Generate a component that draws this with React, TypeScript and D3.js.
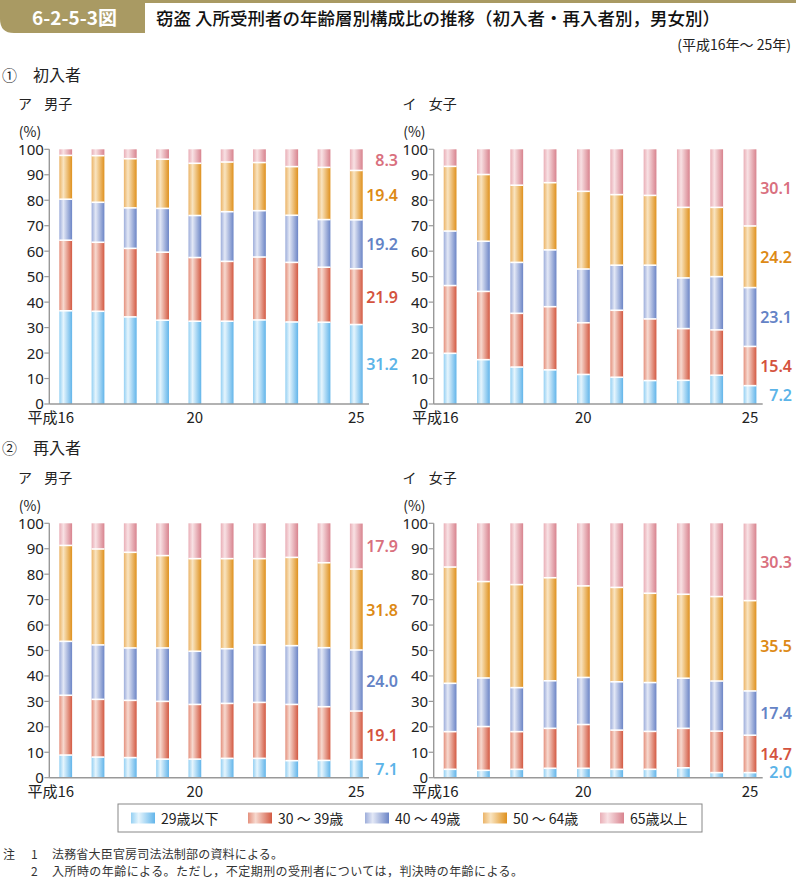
import React from 'react';
import * as d3 from 'd3';

const years = ['16', '17', '18', '19', '20', '21', '22', '23', '24', '25'];
const yearLabels: Record<string, string> = { '16': '平成16', '20': '20', '25': '25' };
const categories = ['29歳以下', '30～39歳', '40～49歳', '50～64歳', '65歳以上'];
const legendLabels = ['29歳以下', '30 ～ 39歳', '40 ～ 49歳', '50 ～ 64歳', '65歳以上'];
const yTicks = [0, 10, 20, 30, 40, 50, 60, 70, 80, 90, 100];

// 初入者 男子
const firstMale = [
  [36.6, 36.4, 34.2, 32.9, 32.5, 32.5, 33.0, 32.2, 32.1, 31.2],
  [27.7, 27.1, 26.9, 26.7, 25.0, 23.5, 24.7, 23.4, 21.6, 21.9],
  [16.1, 15.7, 15.9, 17.2, 16.5, 19.5, 18.2, 18.5, 18.7, 19.2],
  [17.2, 18.3, 19.3, 19.3, 20.5, 19.5, 18.9, 19.1, 20.5, 19.4],
  [2.4, 2.5, 3.7, 3.9, 5.5, 5.0, 5.2, 6.8, 7.1, 8.3],
];
// 初入者 女子
const firstFemale = [
  [19.9, 17.4, 14.5, 13.4, 11.6, 10.5, 9.2, 9.3, 11.3, 7.2],
  [26.6, 26.8, 21.1, 24.8, 20.3, 26.3, 24.2, 20.3, 17.8, 15.4],
  [21.4, 19.7, 20.0, 22.3, 21.1, 17.7, 21.1, 19.9, 20.9, 23.1],
  [25.4, 26.2, 30.3, 26.4, 30.5, 27.7, 27.4, 27.7, 27.2, 24.2],
  [6.7, 9.9, 14.1, 13.1, 16.5, 17.8, 18.1, 22.8, 22.8, 30.1],
];
// 再入者 男子
const reMale = [
  [8.9, 8.1, 7.9, 7.3, 7.3, 7.6, 7.6, 6.7, 6.8, 7.1],
  [23.5, 22.7, 22.5, 22.7, 21.5, 21.6, 22.0, 22.1, 21.1, 19.1],
  [21.2, 21.4, 20.6, 21.0, 20.9, 21.5, 22.6, 23.1, 23.2, 24.0],
  [37.7, 37.7, 37.6, 36.3, 36.4, 35.4, 33.9, 34.7, 33.4, 31.8],
  [8.7, 10.1, 11.4, 12.7, 13.9, 13.9, 13.9, 13.4, 15.5, 17.9],
];
// 再入者 女子
const reFemale = [
  [3.3, 2.9, 3.3, 3.7, 3.7, 3.3, 3.3, 3.9, 2.0, 2.0],
  [14.8, 17.2, 14.8, 15.7, 17.2, 15.4, 14.9, 15.5, 16.3, 14.7],
  [19.0, 19.1, 17.3, 18.7, 18.5, 19.0, 19.2, 19.7, 19.7, 17.4],
  [45.7, 37.9, 40.5, 40.5, 36.0, 37.1, 35.1, 33.0, 33.2, 35.5],
  [17.2, 22.9, 24.1, 21.4, 24.6, 25.2, 27.5, 27.9, 28.8, 30.3],
];

const grad = [
  { edge: '#94d0f3', light: '#e6f5fd', dark: '#62b5ea' },
  { edge: '#e4907d', light: '#f7d9cf', dark: '#d35a43' },
  { edge: '#9dadda', light: '#e3e8f6', dark: '#6c85c6' },
  { edge: '#ebb468', light: '#f9e4c0', dark: '#df911e' },
  { edge: '#e9aeb6', light: '#f8e1e4', dark: '#d8838e' },
];
const labelColors = ['#5cb4e8', '#d4533e', '#6483c6', '#dd8a16', '#d9707e'];

const FONT = '"Noto Sans CJK JP", "Noto Sans", sans-serif';
const NUMFONT = '"Noto Sans", "Noto Sans CJK JP", sans-serif';

type PanelDef = {
  data: number[][];
  axisX: number;
  axisEnd: number;
  top: number;
  bottom: number;
  title: string;
  labelX: number;
};

const panels: PanelDef[] = [
  { data: firstMale, axisX: 49.3, axisEnd: 369, top: 149.3, bottom: 404, title: 'ア', labelX: 398 },
  { data: firstFemale, axisX: 433.7, axisEnd: 762.7, top: 149.3, bottom: 404, title: 'イ', labelX: 792 },
  { data: reMale, axisX: 49.3, axisEnd: 369, top: 523.3, bottom: 777.7, title: 'ア', labelX: 398 },
  { data: reFemale, axisX: 433.7, axisEnd: 762.7, top: 523.3, bottom: 777.7, title: 'イ', labelX: 792 },
];
const panelSub = ['男子', '女子', '男子', '女子'];

function Panel({ p, idx }: { p: PanelDef; idx: number }) {
  const rows = years.map((yr, i) => {
    const r: any = { year: yr };
    categories.forEach((c, k) => (r[c] = p.data[k][i]));
    return r;
  });
  const series = d3.stack<any>().keys(categories)(rows);
  const x = d3.scalePoint<string>().domain(years).range([p.axisX + 16.4, p.axisEnd - 12.7]);
  const y = d3.scaleLinear().domain([0, 100]).range([p.bottom, p.top]);
  const bw = 12.8;
  const last = years.length - 1;
  return (
    <g>
      <text x={p.axisX - 31.3} y={p.top - 46} fontSize={14} fontFamily={FONT} fill="#222" dominantBaseline="central">
        {p.title}
      </text>
      <text x={p.axisX - 5} y={p.top - 46} fontSize={14} fontFamily={FONT} fill="#222" dominantBaseline="central">
        {panelSub[idx]}
      </text>
      <text x={p.axisX - 30.5} y={p.top - 18.3} fontSize={14} fontFamily={FONT} fill="#222" dominantBaseline="central">
        (%)
      </text>
      {/* bars */}
      {series.map((s, k) => (
        <g key={k}>
          {s.map((d, i) => (
            <rect
              key={i}
              x={(x(years[i]) as number) - bw / 2}
              y={y(d[1])}
              width={bw}
              height={Math.max(0, y(d[0]) - y(d[1]))}
              fill={`url(#g${k})`}
            />
          ))}
        </g>
      ))}
      {/* separators */}
      {series.slice(0, -1).map((s, k) => (
        <g key={'s' + k}>
          {s.map((d, i) => (
            <line
              key={i}
              x1={(x(years[i]) as number) - bw / 2}
              x2={(x(years[i]) as number) + bw / 2}
              y1={y(d[1])}
              y2={y(d[1])}
              stroke="#fff"
              strokeWidth={1.6}
            />
          ))}
        </g>
      ))}
      {/* y axis */}
      <line x1={p.axisX} x2={p.axisX} y1={p.top} y2={p.bottom} stroke="#999" strokeWidth={1.4} />
      {yTicks.map((t) => (
        <g key={t}>
          <line x1={p.axisX - 5} x2={p.axisX} y1={y(t)} y2={y(t)} stroke="#999" strokeWidth={1.2} />
          <text
            x={p.axisX - 5.5}
            y={y(t) - (t === 0 ? 1 : 0.5)}
            textAnchor="end"
            dominantBaseline="central"
            fontSize={15}
            fontFamily={NUMFONT}
            fill="#222"
          >
            {t}
          </text>
        </g>
      ))}
      {/* x axis */}
      <line x1={p.axisX} x2={p.axisEnd} y1={p.bottom} y2={p.bottom} stroke="#999" strokeWidth={1.4} />
      {years.map((yr) =>
        yearLabels[yr] ? (
          <text
            key={yr}
            x={yr === '16' ? (x(yr) as number) + 8.5 : (x(yr) as number)}
            y={p.bottom + 18.8}
            textAnchor={yr === '16' ? 'end' : 'middle'}
            fontSize={15}
            fontFamily={FONT}
            fill="#222"
          >
            {yearLabels[yr]}
          </text>
        ) : null
      )}
      {/* value labels */}
      {series.map((s, k) => {
        const d = s[last];
        const v = p.data[k][last];
        return (
          <text
            key={'l' + k}
            x={p.labelX}
            y={Math.min(y((d[0] + d[1]) / 2), p.bottom - 6)}
            textAnchor="end"
            dominantBaseline="central"
            fontSize={16}
            fontWeight={600}
            fontFamily={NUMFONT}
            fill={labelColors[k]}
          >
            {v.toFixed(1)}
          </text>
        );
      })}
    </g>
  );
}

export default function App() {
  const legendX = [131, 248, 365, 483, 600];
  return (
    <svg
      width={796}
      height={881}
      style={{ position: 'absolute', left: 0, top: 0, background: '#fff' }}
      xmlns="http://www.w3.org/2000/svg"
    >
      <defs>
        {grad.map((g, k) => (
          <linearGradient key={k} id={`g${k}`} x1="0" x2="1" y1="0" y2="0">
            <stop offset="0%" stopColor={g.edge} />
            <stop offset="32%" stopColor={g.light} />
            <stop offset="100%" stopColor={g.dark} />
          </linearGradient>
        ))}
      </defs>
      <rect x={0} y={0} width={796} height={881} fill="#fff" />
      {/* header */}
      <rect x={0} y={0} width={796} height={3} fill="#a99a63" />
      <path d="M0,0 H145 V33 H14 Q0,33 0,19 Z" fill="#a99a63" />
      <text x={32} y={25} fontSize={19} fontWeight={700} fill="#fff" fontFamily={FONT}>
        6-2-5-3図
      </text>
      <text x={156} y={25} fontSize={17.5} fontWeight={500} fill="#111" fontFamily={FONT}>
        窃盗 入所受刑者の年齢層別構成比の推移（初入者・再入者別，男女別）
      </text>
      <text x={791} y={50} fontSize={14} fill="#222" textAnchor="end" fontFamily={FONT}>
        (平成16年～ 25年)
      </text>
      {/* section headings */}
      <text x={2} y={74} fontSize={15} fill="#222" fontFamily={FONT} dominantBaseline="central">
        ①
      </text>
      <text x={33} y={74} fontSize={16} fill="#222" fontFamily={FONT} dominantBaseline="central">
        初入者
      </text>
      <text x={2} y={447} fontSize={15} fill="#222" fontFamily={FONT} dominantBaseline="central">
        ②
      </text>
      <text x={33} y={447} fontSize={16} fill="#222" fontFamily={FONT} dominantBaseline="central">
        再入者
      </text>
      {panels.map((p, i) => (
        <Panel key={i} p={p} idx={i} />
      ))}
      {/* legend */}
      <rect x={118} y={804} width={584} height={28} fill="#fff" stroke="#888" strokeWidth={1} />
      {categories.map((c, k) => (
        <g key={c}>
          <rect x={legendX[k]} y={812.5} width={24} height={11} fill={`url(#g${k})`} />
          <text
            x={legendX[k] + 30}
            y={818}
            fontSize={14}
            fill="#222"
            fontFamily={FONT}
            dominantBaseline="central"
          >
            {legendLabels[k]}
          </text>
        </g>
      ))}
      {/* notes */}
      <text x={3} y={859} fontSize={12} fill="#333" fontFamily={FONT}>
        注
      </text>
      <text x={31} y={859} fontSize={12} fill="#333" fontFamily={FONT}>
        1
      </text>
      <text x={52} y={859} fontSize={12} fill="#333" fontFamily={FONT} textLength={231} lengthAdjust="spacing">
        法務省大臣官房司法法制部の資料による。
      </text>
      <text x={31} y={876} fontSize={12} fill="#333" fontFamily={FONT}>
        2
      </text>
      <text x={52} y={876} fontSize={12} fill="#333" fontFamily={FONT} textLength={471} lengthAdjust="spacing">
        入所時の年齢による。ただし，不定期刑の受刑者については，判決時の年齢による。
      </text>
    </svg>
  );
}
